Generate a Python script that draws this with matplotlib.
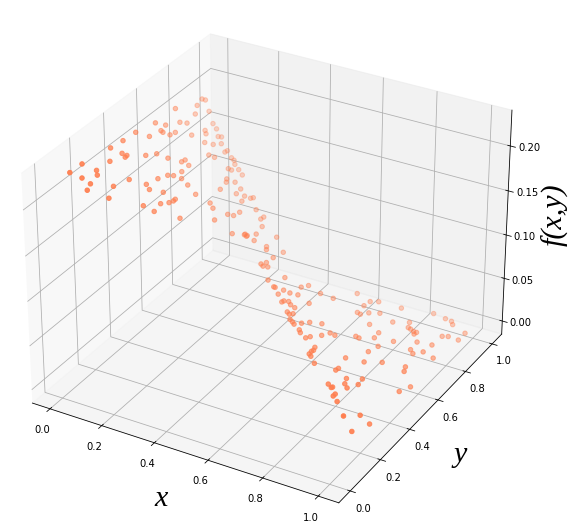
import matplotlib
matplotlib.use('Agg')
import matplotlib.pyplot as plt

# values
x_vals = [0.045,0.040,0.063,0.076,0.090,0.058,0.067,0.022,0.045,0.009,0.036,0.040,0.045,0.094,0.117,0.090,0.000,0.013,0.000,0.000,
          0.004,0.009,0.022,0.018,0.000,0.000,0.032,0.000,0.000,0.000,0.000,0.000,0.000,0.049,0.054,0.072,0.085,0.085,0.099,0.108,
          0.104,0.112,0.126,0.108,0.112,0.126,0.139,0.144,0.171,0.153,0.162,0.166,0.166,0.162,0.171,0.207,0.027,0.036,0.058,0.018,
          0.032,0.049,0.054,0.067,0.072,0.090,0.099,0.094,0.090,0.112,0.122,0.130,0.139,0.144,0.148,0.162,0.176,0.162,0.166,0.180,
          0.198,0.202,0.216,0.229,0.202,0.216,0.243,0.243,0.252,0.252,0.292,0.310,0.315,0.229,0.229,0.261,0.288,0.292,0.310,0.356,
          0.324,0.337,0.310,0.315,0.364,0.374,0.400,0.400,0.400,0.410,0.405,0.418,0.468,0.450,0.477,0.477,0.499,0.499,0.518,0.536,
          0.518,0.526,0.567,0.603,0.634,0.576,0.526,0.526,0.536,0.549,0.562,0.562,0.572,0.576,0.585,0.594,0.603,0.616,0.626,0.652,
          0.630,0.639,0.662,0.666,0.684,0.693,0.711,0.756,0.770,0.684,0.684,0.702,0.688,0.702,0.715,0.747,0.796,0.801,0.837,0.832,
          0.855,0.801,0.706,0.711,0.711,0.715,0.724,0.752,0.819,0.819,0.868,0.909,0.886,0.904,0.918,0.846,0.864,0.864,0.896,0.896,
          0.927,0.999,0.999,0.999,0.999,0.770,0.738,0.792,0.859,0.904,0.927,0.945,0.832,0.846,0.855,0.873,0.882,0.882,0.999,0.999,
          0.976,0.958,0.859,0.914,0.963,0.927,0.945,0.967,0.999,0.900,0.976,0.990,0.999,0.999]
y_vals = [0.027,0.104,0.067,0.094,0.054,0.158,0.148,0.297,0.256,0.391,0.342,0.364,0.346,0.198,0.135,0.297,0.482,0.544,0.603,0.666,
          0.630,0.634,0.657,0.697,0.756,0.801,0.778,0.855,0.868,0.900,0.922,0.729,0.945,0.463,0.522,0.562,0.626,0.648,0.648,0.589,
          0.508,0.531,0.558,0.441,0.364,0.360,0.423,0.567,0.572,0.279,0.369,0.414,0.441,0.459,0.315,0.414,0.873,0.864,0.819,0.940,
          0.940,0.922,0.936,0.859,0.904,0.792,0.814,0.891,0.914,0.904,0.904,0.896,0.837,0.850,0.891,0.891,0.819,0.788,0.778,0.715,
          0.819,0.783,0.814,0.774,0.612,0.607,0.572,0.657,0.680,0.720,0.603,0.657,0.662,0.850,0.832,0.814,0.819,0.792,0.770,0.788,
          0.706,0.670,0.652,0.657,0.706,0.688,0.688,0.756,0.607,0.603,0.634,0.621,0.648,0.567,0.558,0.567,0.585,0.549,0.594,0.616,
          0.670,0.706,0.715,0.738,0.850,0.621,0.526,0.540,0.554,0.544,0.549,0.499,0.495,0.513,0.477,0.477,0.472,0.499,0.536,0.572,
          0.459,0.450,0.445,0.468,0.513,0.554,0.554,0.616,0.612,0.806,0.850,0.878,0.752,0.747,0.783,0.729,0.702,0.662,0.621,0.562,
          0.490,0.463,0.428,0.410,0.396,0.374,0.369,0.342,0.382,0.364,0.346,0.378,0.302,0.284,0.333,0.265,0.252,0.261,0.220,0.207,
          0.176,0.086,0.197,0.262,0.143,0.914,0.819,0.810,0.981,0.981,0.981,0.954,0.855,0.819,0.819,0.806,0.810,0.792,0.940,0.890,
          0.859,0.850,0.688,0.752,0.765,0.680,0.662,0.693,0.704,0.531,0.549,0.513,0.544,0.464]
z_vals = [0.235,0.233,0.225,0.216,0.216,0.220,0.217,0.222,0.215,0.216,0.211,0.206,0.207,0.200,0.198,0.193,0.212,0.200,0.206,0.195,
          0.194,0.192,0.187,0.184,0.186,0.179,0.171,0.182,0.190,0.193,0.189,0.205,0.173,0.193,0.187,0.178,0.166,0.165,0.160,0.162,
          0.169,0.166,0.160,0.175,0.180,0.176,0.165,0.153,0.144,0.172,0.162,0.157,0.155,0.154,0.162,0.143,0.163,0.161,0.159,0.161,
          0.156,0.151,0.149,0.152,0.147,0.151,0.146,0.141,0.139,0.134,0.132,0.129,0.133,0.130,0.125,0.120,0.123,0.130,0.128,0.130,
          0.117,0.117,0.111,0.112,0.131,0.127,0.121,0.115,0.111,0.109,0.105,0.098,0.096,0.105,0.107,0.099,0.092,0.094,0.090,0.079,
          0.092,0.091,0.098,0.096,0.081,0.081,0.074,0.070,0.079,0.078,0.077,0.075,0.063,0.071,0.067,0.065,0.061,0.062,0.058,0.054,
          0.053,0.050,0.043,0.037,0.028,0.047,0.059,0.058,0.056,0.055,0.052,0.055,0.054,0.052,0.052,0.050,0.049,0.047,0.043,0.038,
          0.047,0.046,0.043,0.041,0.037,0.034,0.033,0.026,0.026,0.025,0.023,0.020,0.026,0.026,0.023,0.021,0.020,0.021,0.021,0.024,
          0.026,0.030,0.039,0.039,0.040,0.041,0.040,0.039,0.033,0.034,0.032,0.030,0.035,0.035,0.032,0.037,0.037,0.036,0.038,0.038,
          0.040,0.046,0.028,0.007,0.019,0.013,0.019,0.015,0.004,0.002,0.001,0.003,0.011,0.012,0.011,0.012,0.011,0.012,0.000,0.000,
          0.007,0.007,0.018,0.012,0.011,0.016,0.016,0.015,0.009,0.023,0.022,0.024,0.002,0.010]
z_ticks = [0, 0.05, 0.10, 0.15, 0.20]

fig = plt.figure(figsize=(569/72, 529/72), dpi=72)
size = 545.8
ax = fig.add_axes([(264.1-size/2)/569, (529-264.4-size/2)/529, size/569, size/529], projection='3d')
ax.view_init(elev=30.12, azim=-60.16)
ax.scatter(x_vals, y_vals, z_vals, color='coral')
ax.set_xlim(-0.06906, 1.073)
ax.set_ylim(-0.07406, 1.073)
ax.set_zlim(-0.01547, 0.2393)
ax.set_zticks(z_ticks)
ax.set_box_aspect((4, 4.032, 2.993))

# axis names sit outside the 3d box
label_font = dict(family='Liberation Serif', style='italic', fontsize=30, ha='center', va='center')
fig.text(161/569, 1-499/529, 'x', **label_font)
fig.text(460/569, 1-455/529, 'y', **label_font)
fig.text(555/569, 1-215/529, 'f(x,y)', rotation=90, **label_font)

fig.savefig('out.png', dpi=72)
